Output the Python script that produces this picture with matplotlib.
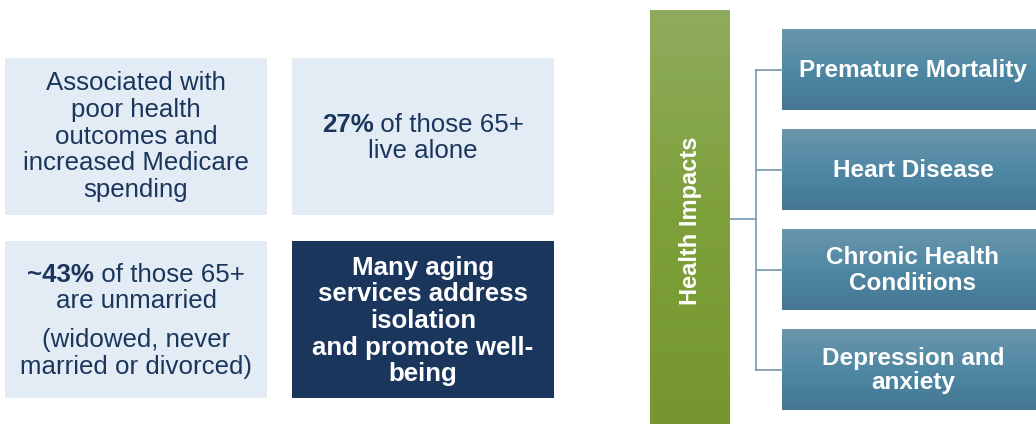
import matplotlib
matplotlib.use("Agg")
import matplotlib.pyplot as plt
import numpy as np
from matplotlib.patches import Rectangle
from matplotlib.colors import LinearSegmentedColormap

# ---- content ----
box1_lines = [[("Associated with", "normal")], [("poor health", "normal")],
              [("outcomes and", "normal")], [("increased Medicare", "normal")],
              [("spending", "normal")]]
box2_lines = [[("27%", "bold"), (" of those 65+", "normal")], [("live alone", "normal")]]
box3_lines = [[("~43%", "bold"), (" of those 65+", "normal")], [("are unmarried", "normal")]]
box3_note = [[("(widowed, never", "normal")], [("married or divorced)", "normal")]]
box4_lines = [[("Many aging", "bold")], [("services address", "bold")], [("isolation", "bold")],
              [("and promote well-", "bold")], [("being", "bold")]]
hub_label = "Health Impacts"
impacts = [["Premature Mortality"], ["Heart Disease"], ["Chronic Health", "Conditions"],
           ["Depression and", "anxiety"]]

W, H = 1036, 424
FONT = "Liberation Sans"
DARK = "#1b365d"
LIGHT = "#e3ecf4"

fig = plt.figure(figsize=(W / 100, H / 100), dpi=100)
ax = fig.add_axes([0, 0, 1, 1])
ax.set_xlim(0, W)
ax.set_ylim(H, 0)
ax.axis("off")
fig.canvas.draw()
renderer = fig.canvas.get_renderer()


def draw_lines(cx, y0, lines, spacing, size, color):
    for i, segs in enumerate(lines):
        y = y0 + i * spacing
        texts = []
        widths = []
        for s, w in segs:
            t = ax.text(0, y, s, fontsize=size, fontweight=w, family=FONT, color=color,
                        ha="left", va="center", zorder=4)
            bb = t.get_window_extent(renderer)
            texts.append(t)
            widths.append(bb.width)
        total = sum(widths)
        x = cx - total / 2
        for t, wd in zip(texts, widths):
            t.set_x(x)
            x += wd


def gradient_box(x0, y0, x1, y1, c_top, c_mid, c_bot):
    cmap = LinearSegmentedColormap.from_list("g", [c_top, c_mid, c_bot])
    grad = np.linspace(0, 1, 256).reshape(-1, 1)
    ax.imshow(grad, cmap=cmap, extent=(x0, x1, y1, y0), aspect="auto", zorder=1,
              interpolation="bilinear")


# left grid
ax.add_patch(Rectangle((5, 58), 262, 157, color=LIGHT, lw=0))
ax.add_patch(Rectangle((292, 58), 262, 157, color=LIGHT, lw=0))
ax.add_patch(Rectangle((5, 241), 262, 157, color=LIGHT, lw=0))
ax.add_patch(Rectangle((292, 241), 262, 157, color=DARK, lw=0))

draw_lines(136, 83.5, box1_lines, 26.5, 18.6, DARK)
draw_lines(423, 124.5, box2_lines, 27, 18.6, DARK)
draw_lines(136, 274.5, box3_lines, 26.5, 18.6, DARK)
draw_lines(136, 340.5, box3_note, 26.5, 18.6, DARK)
draw_lines(423, 267.5, box4_lines, 26.7, 18.6, "white")

# green hub
gradient_box(650, 10, 730, 424, "#8fac5e", "#7ea03a", "#76972f")
ax.text(690, 221, hub_label, rotation=90, fontsize=17, fontweight="bold", family=FONT,
        color="white", ha="center", va="center", zorder=3)

# connectors
LC = "#7ba0b4"
box_tops = [29, 129, 229, 329]
box_h = 81
centers = [t + box_h / 2 for t in box_tops]
ax.plot([730, 756], [219, 219], color=LC, lw=1.3, zorder=2)
ax.plot([756, 756], [centers[0], centers[-1]], color=LC, lw=1.3, zorder=2)
for c in centers:
    ax.plot([756, 782], [c, c], color=LC, lw=1.3, zorder=2)

for top, lab in zip(box_tops, impacts):
    gradient_box(782, top, 1036, top + box_h, "#6b96ab", "#4f88a4", "#447792")
    n = len(lab)
    y0 = top + box_h / 2 + 1 - (n - 1) * 25 / 2
    draw_lines(913, y0, [[(s, "bold")] for s in lab], 25, 17.5, "white")

ax.set_xlim(0, W)
ax.set_ylim(H, 0)
fig.savefig("out.png", dpi=100)
